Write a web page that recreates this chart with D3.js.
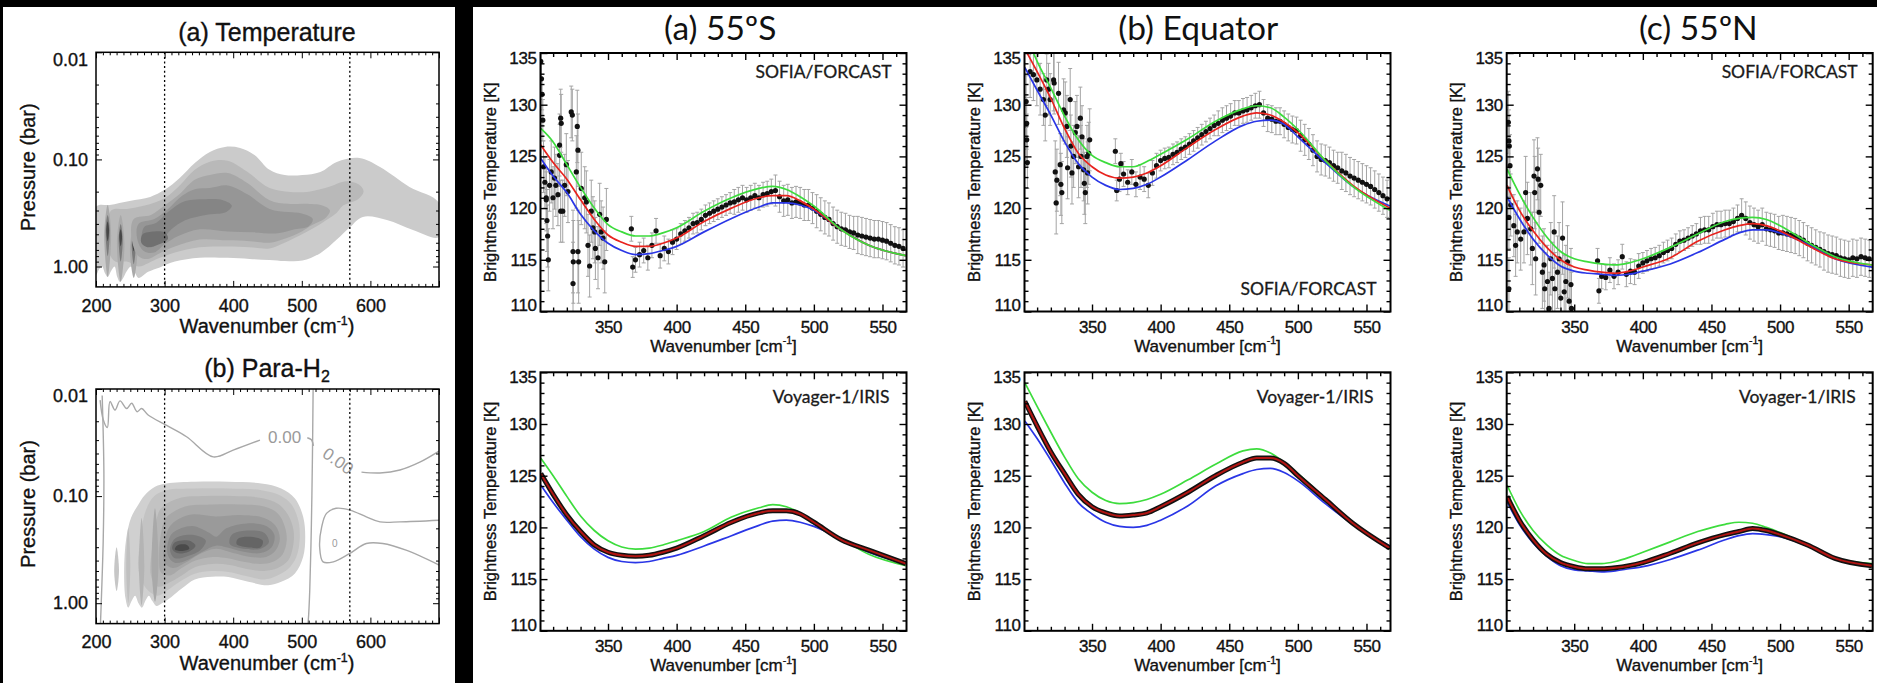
<!DOCTYPE html>
<html>
<head>
<meta charset="utf-8">
<script src="https://cdn.jsdelivr.net/npm/d3@7"></script>
<style>
  body { margin: 0; background: #000; }
  svg { display: block; }
</style>
</head>
<body>
<svg id="fig" width="1877" height="683"></svg>
<script>
// ---------------- left column: contribution maps, [wavenumber, pressure(bar)] outlines
const dottedWn = [300, 570]

const tempL1 = [[200,0.2775],[220,0.266],[249,0.244],[279,0.224],[300,0.1925],[322,0.149],[344,0.108],[366,0.0851],
  [388,0.0764],[410,0.0781],[431,0.0908],[453,0.125],[475,0.14],[501,0.14],[527,0.131],[551,0.1055],[584,0.0968],
  [614,0.1175],[657,0.1805],[700,0.2545],[700,0.53],[662,0.455],[624,0.367],[589,0.344],[570,0.43],[551,0.56],
  [527,0.75],[501,0.88],[475,0.89],[453,0.87],[424,0.85],[392,0.83],[351,0.83],[315,0.9],[293,1.02],[276,1.12],
  [262,1.28],[257,1.15],[251,1.0],[245,1.1],[239,1.3],[235,1.39],[231,1.25],[227,1.0],[222,1.1],[217,1.25],
  [213,1.15],[209,1.0],[205,1.05],[200,1.2]]
const tempL2 = [[222,0.3],[245,0.29],[271,0.27],[300,0.23],[322,0.175],[344,0.125],[366,0.105],[392,0.103],[420,0.13],
  [453,0.185],[480,0.2],[510,0.2],[540,0.18],[565,0.16],[585,0.175],[590,0.2],[582,0.235],[560,0.27],[551,0.315],
  [530,0.39],[512,0.455],[490,0.54],[470,0.62],[453,0.68],[424,0.66],[392,0.65],[351,0.66],[315,0.74],[293,0.83],
  [276,0.93],[262,1.0],[245,0.9],[228,0.9],[218,0.7]]
const tempL3 = [[255,0.36],[280,0.33],[300,0.27],[322,0.21],[344,0.155],[366,0.14],[392,0.134],[420,0.165],[453,0.24],
  [480,0.26],[505,0.26],[530,0.27],[541,0.3],[535,0.35],[515,0.41],[500,0.47],[475,0.55],[453,0.6],[424,0.58],
  [392,0.57],[351,0.56],[315,0.65],[293,0.75],[276,0.85],[262,0.8],[252,0.55]]
const tempL4 = [[262,0.4],[285,0.36],[305,0.29],[325,0.22],[344,0.19],[366,0.185],[392,0.175],[420,0.21],[453,0.29],
  [480,0.31],[500,0.32],[516,0.36],[510,0.42],[490,0.45],[465,0.49],[430,0.48],[392,0.47],[351,0.45],[320,0.52],
  [300,0.62],[285,0.74],[270,0.72],[260,0.55]]
const tempL5 = [[270,0.43],[288,0.39],[305,0.31],[330,0.245],[360,0.235],[385,0.24],[398,0.27],[390,0.31],[360,0.33],
  [330,0.37],[310,0.45],[295,0.58],[280,0.66],[268,0.6]]
const tempL6 = [[268,0.5],[285,0.47],[300,0.48],[305,0.55],[292,0.62],[275,0.66],[266,0.6]]
const tempFills = ['#cbcbcb', '#b9b9b9', '#a7a7a7', '#969696', '#858585', '#707070']

const tempFingers = [
  [[217,0.266],[222,0.5],[217,1.25],[212,0.5]], [[236,0.33],[241.5,0.6],[236,1.39],[230.5,0.6]],
  [[255,0.43],[260.5,0.68],[255,1.28],[249.5,0.68]],
  [[217,0.33],[220,0.45],[217,0.8],[214,0.45]], [[236,0.4],[239,0.55],[236,0.9],[233,0.55]],
  [[255,0.48],[258,0.62],[255,0.95],[252,0.62]],
  [[217,0.38],[219,0.46],[217,0.58],[215,0.46]], [[236,0.45],[238,0.52],[236,0.65],[234,0.52]],
  [[255,0.54],[257,0.6],[255,0.72],[253,0.6]]]
const tempFingerFills = ['#a9a9a9', '#a9a9a9', '#a9a9a9', '#7a7a7a', '#7a7a7a', '#7a7a7a', '#464646', '#464646', '#464646']

const paraP1 = [[251,0.16],[260,0.125],[271,0.098],[286,0.0818],[303,0.0762],[344,0.0735],[393,0.0735],[441,0.0762],
  [470,0.0847],[490,0.105],[502,0.156],[505,0.24],[502,0.369],[490,0.528],[470,0.632],[451,0.679],[422,0.632],
  [393,0.57],[369,0.567],[344,0.6],[325,0.73],[310,0.873],[296,1.0],[288,1.06],[282,0.95],[277,0.85],[272,0.95],
  [267,1.1],[262,1.0],[257,0.85],[252,0.95],[247,1.1],[243,0.9],[241,0.5],[244,0.25]]
const paraP2 = [[272,0.14],[285,0.1],[303,0.088],[344,0.085],[393,0.085],[441,0.088],[468,0.098],[485,0.12],[495,0.17],
  [497,0.25],[492,0.37],[480,0.48],[462,0.56],[445,0.6],[420,0.56],[393,0.51],[369,0.5],[344,0.53],[322,0.63],
  [305,0.75],[290,0.85],[275,0.75],[262,0.5],[265,0.25]]
const paraP3 = [[287,0.18],[295,0.13],[320,0.105],[360,0.1],[400,0.1],[441,0.104],[465,0.118],[480,0.15],[488,0.21],
  [487,0.3],[480,0.4],[465,0.47],[445,0.5],[420,0.48],[395,0.44],[370,0.43],[345,0.46],[325,0.55],[305,0.65],
  [290,0.7],[280,0.55],[282,0.3]]
const paraP4 = [[295,0.22],[302,0.16],[330,0.125],[370,0.12],[410,0.12],[445,0.125],[465,0.145],[475,0.19],[478,0.26],
  [472,0.35],[458,0.41],[440,0.43],[415,0.41],[392,0.38],[370,0.37],[345,0.4],[325,0.47],[308,0.55],[295,0.52],[292,0.35]]
const paraP5 = [[300,0.28],[308,0.19],[335,0.15],[375,0.155],[410,0.15],[445,0.16],[462,0.19],[468,0.25],[462,0.32],
  [448,0.37],[425,0.37],[400,0.34],[375,0.31],[350,0.35],[330,0.42],[312,0.47],[300,0.42]]
const paraP6 = [[305,0.27],[312,0.22],[340,0.19],[365,0.22],[375,0.24],[390,0.2],[420,0.18],[448,0.19],[460,0.23],
  [456,0.3],[440,0.34],[415,0.33],[390,0.3],[375,0.29],[355,0.33],[335,0.39],[315,0.42],[305,0.36]]
const paraP7L = [[308,0.32],[315,0.25],[340,0.23],[360,0.26],[352,0.32],[335,0.36],[315,0.38]]
const paraP7R = [[395,0.28],[398,0.23],[420,0.21],[445,0.22],[452,0.27],[440,0.31],[415,0.31]]
const paraP8L = [[311,0.31],[315,0.27],[335,0.26],[345,0.29],[335,0.33],[318,0.34]]
const paraP8R = [[405,0.28],[407,0.25],[425,0.24],[443,0.26],[440,0.3],[420,0.3]]
const paraP9L = [[315,0.315],[318,0.29],[332,0.285],[336,0.31],[325,0.325]]
const paraFingers = [[[230,0.3],[233.5,0.5],[230,0.77],[226.5,0.5]], [[247,0.2],[250,0.45],[247,1.0],[244,0.45]],
  [[266.5,0.16],[270.5,0.45],[266.5,1.05],[262.5,0.45]], [[286,0.13],[291,0.45],[286,0.97],[281,0.45]]]
const paraFingerFills = ['#c6c6c6', '#c0c0c0', '#b4b4b4', '#a9a9a9']
const paraFills = ['#d0d0d0', '#c3c3c3', '#b6b6b6', '#a8a8a8', '#9a9a9a', '#8b8b8b', '#7a7a7a', '#7a7a7a',
  '#656565', '#656565', '#4a4a4a']

// zero contour lines of the para-H2 panel
const zeroA1 = [[206,0.0127],[210.7,0.0195],[216.5,0.0229],[220.4,0.0131],[227.7,0.0157],[235,0.0129],[244.7,0.0152],
  [252,0.0136],[260,0.0163],[266.5,0.0152],[276,0.0175],[303,0.0219],[332,0.0279],[371,0.043],[400,0.0372],[439,0.030]]
const zeroA2 = [[508,0.0285],[514,0.0298],[517,0.034]]
const zeroB = [[516.5,0.0101],[515.5,0.043],[514,0.18],[511.6,0.757],[509.5,1.44],[509,1.55]]
const zeroC = [[209,0.0115],[211.5,0.06],[210.5,0.26],[207.5,1.05],[206.5,1.55]]
const zeroD = [[587,0.0597],[614,0.0608],[643,0.057],[672,0.0482],[700,0.038]]
const zeroE = [[700,0.168],[643,0.174],[614,0.174],[594,0.156],[570,0.135],[550,0.13],[536,0.145],[529,0.194],
  [526,0.298],[531,0.411],[546,0.411],[570,0.343],[594,0.277],[618,0.277],[652,0.32],[700,0.44]]
const zeroLabels = [['0.00', 475, 0.0279, 0], ['0.00', 553, 0.047, 35], ['0', 548, 0.277, 0]]

// ---------------- right block: brightness temperature spectra [K]
const wnGrid = [301, 310, 320, 330, 340, 350, 360, 370, 380, 390, 400, 420, 440, 460, 470, 480, 490, 500, 520, 540, 567]

const sofS55Green = [127.7, 126.4, 124.2, 122.0, 120.0, 118.4, 117.7, 117.3, 117.3, 117.6, 118.1, 119.7, 121.0, 121.9, 122.1, 121.8, 121.1, 120.2, 117.9, 116.4, 115.4]
const sofS55Red   = [126.1, 124.4, 122.8, 120.8, 118.9, 117.4, 116.7, 116.3, 116.3, 116.6, 117.1, 118.7, 120.0, 121.0, 121.2, 121.2, 120.7, 119.9, 117.9, 116.4, 115.4]
const sofS55Blue  = [124.8, 123.1, 121.5, 119.4, 117.8, 116.6, 115.9, 115.5, 115.6, 115.9, 116.3, 117.7, 119.0, 120.1, 120.5, 120.5, 120.3, 119.8, 117.9, 116.4, 115.4]
const sofEqGreen  = [137.0, 134.2, 131.6, 128.9, 126.6, 125.1, 124.4, 124.0, 124.0, 124.5, 125.2, 126.7, 128.4, 129.6, 129.9, 129.7, 128.8, 127.6, 124.6, 122.1, 119.8]
const sofEqRed    = [135.4, 133.2, 130.6, 127.7, 125.3, 124.0, 123.2, 122.9, 123.0, 123.4, 124.1, 125.9, 127.6, 128.9, 129.2, 129.0, 128.3, 127.3, 124.6, 122.2, 120.0]
const sofEqBlue   = [133.6, 131.4, 129.0, 126.4, 124.3, 123.0, 122.2, 121.8, 121.9, 122.3, 123.0, 124.7, 126.5, 128.0, 128.4, 128.5, 128.1, 126.9, 124.4, 122.1, 120.2]
const sofN55Green = [123.8, 121.4, 119.1, 117.2, 115.8, 115.1, 114.8, 114.6, 114.5, 114.7, 115.1, 116.2, 117.5, 118.7, 119.0, 119.1, 118.9, 118.3, 116.7, 115.3, 114.5]
const sofN55Red   = [122.2, 119.8, 117.8, 116.2, 115.0, 114.3, 114.0, 113.8, 113.7, 113.9, 114.3, 115.2, 116.8, 117.9, 118.3, 118.5, 118.3, 117.8, 116.4, 115.1, 114.5]
const sofN55Blue  = [121.1, 119.0, 117.0, 115.5, 114.4, 113.9, 113.7, 113.6, 113.5, 113.6, 113.9, 114.6, 115.7, 117.0, 117.6, 117.9, 117.9, 117.6, 116.5, 115.1, 114.3]

const irS55Green = [126.7, 125.0, 123.0, 121.1, 119.7, 118.7, 118.1, 117.9, 118.0, 118.3, 118.7, 119.6, 121.0, 121.9, 122.2, 122.0, 121.4, 120.5, 118.9, 117.4, 116.3]
const irS55Blue  = [124.1, 122.4, 120.7, 119.1, 117.9, 117.1, 116.7, 116.6, 116.7, 117.0, 117.3, 118.2, 119.2, 120.2, 120.6, 120.7, 120.5, 120.1, 118.9, 117.6, 116.5]
const irS55Data  = [125.2, 123.2, 121.2, 119.6, 118.3, 117.6, 117.3, 117.2, 117.3, 117.6, 118.0, 119.2, 120.5, 121.4, 121.6, 121.6, 121.3, 120.5, 118.8, 117.8, 116.5]
const irEqGreen  = [134.0, 131.7, 129.2, 126.8, 124.7, 123.4, 122.6, 122.3, 122.4, 122.7, 123.2, 124.6, 126.1, 127.4, 127.6, 127.2, 126.3, 125.2, 122.8, 120.4, 117.9]
const irEqBlue   = [130.3, 128.6, 126.5, 124.3, 122.4, 121.3, 120.5, 120.1, 120.0, 120.2, 120.7, 122.1, 124.0, 125.2, 125.6, 125.7, 125.3, 124.5, 122.3, 120.3, 118.2]
const irEqData   = [132.2, 129.8, 127.3, 125.2, 123.2, 122.0, 121.4, 121.1, 121.2, 121.4, 122.0, 123.4, 125.0, 126.3, 126.7, 126.7, 126.2, 125.0, 122.7, 120.4, 118.0]
const irN55Green = [124.1, 121.7, 119.7, 118.3, 117.3, 116.8, 116.5, 116.5, 116.7, 117.1, 117.6, 118.6, 119.6, 120.3, 120.5, 120.4, 120.0, 119.5, 118.3, 117.0, 116.5]
const irN55Blue  = [122.5, 120.3, 118.5, 117.2, 116.3, 115.9, 115.8, 115.7, 115.8, 116.0, 116.2, 116.9, 117.8, 118.8, 119.2, 119.4, 119.3, 119.1, 118.2, 117.0, 116.3]
const irN55Data  = [123.0, 120.7, 118.8, 117.4, 116.6, 116.2, 116.0, 116.0, 116.1, 116.3, 116.6, 117.5, 118.5, 119.3, 119.6, 119.9, 119.7, 119.3, 118.3, 117.0, 116.3]

// SOFIA points beyond the gap, one every 3 cm-1 from 367
const sofiaGrid = d3.range(367, 566, 3)
const sofS55Pts = [118.0, 115.0, 115.5, 115.9, 115.2, 116.4, 117.8, 115.4, 116.1, 115.8,
  116.7, 117.0, 117.5, 117.8, 118.1, 118.5, 118.6, 118.9, 119.3, 119.5,
  119.7, 119.9, 120.1, 120.3, 120.5, 120.6, 120.8, 121.0, 120.8, 121.0,
  121.2, 121.0, 121.3, 121.4, 121.6, 121.7, 121.1, 120.7, 120.8, 120.5,
  120.6, 120.5, 120.3, 120.3, 120.0, 119.7, 119.4, 119.1, 118.9, 118.5,
  118.2, 118.0, 117.9, 117.7, 117.6, 117.4, 117.3, 117.2, 117.1, 117.0,
  117.0, 116.9, 116.8, 116.6, 116.4, 116.3, 116.1]
const sofEqPts = [125.5, 122.8, 123.3, 122.5, 123.5, 122.3, 123.0, 122.8, 122.2, 123.4,
  124.1, 124.6, 124.8, 124.9, 125.2, 125.4, 125.7, 125.9, 126.2, 126.5,
  126.8, 127.1, 127.4, 127.7, 128.0, 128.2, 128.5, 128.7, 128.9, 129.2,
  129.2, 129.4, 129.5, 129.7, 129.9, 130.0, 129.2, 128.7, 128.6, 128.4,
  128.4, 128.1, 127.8, 127.6, 127.5, 127.0, 126.6, 126.2, 125.6, 125.0,
  124.7, 124.6, 124.4, 124.1, 123.9, 123.6, 123.4, 123.1, 122.9, 122.7,
  122.5, 122.3, 122.1, 121.8, 121.5, 121.2, 120.9]
const sofN55Pts = [114.9, 113.4, 113.3, 114.0, 113.4, 113.8, 115.3, 113.6, 113.9, 113.8,
  114.4, 114.7, 114.9, 115.1, 115.2, 115.4, 115.7, 115.9, 116.1, 116.5,
  116.8, 116.9, 117.1, 117.3, 117.5, 117.8, 117.9, 117.9, 118.2, 118.4,
  118.4, 118.5, 118.5, 118.7, 119.0, 119.3, 119.0, 118.6, 118.4, 118.2,
  118.4, 118.0, 117.9, 117.8, 117.6, 117.6, 117.5, 117.4, 117.3, 117.1,
  116.9, 116.6, 116.4, 116.2, 116.0, 115.8, 115.6, 115.5, 115.4, 115.2,
  115.1, 115.0, 115.2, 115.1, 115.3, 115.2, 115.1]
// error half-widths, [from wavenumber, K]
const sofS55Err = [[367,1.2],[400,1.0],[440,1.2],[470,1.5],[500,1.6],[530,1.8]]
const sofEqErr  = [[367,1.2],[400,1.0],[440,1.2],[470,1.3],[500,1.5],[530,1.8]]
const sofN55Err = [[367,1.2],[400,1.0],[440,1.3],[470,1.6],[500,1.7],[530,1.8]]

// noisy short-wavelength end, [wavenumber, K, error]
const sofS55Scatter = [[301,134.2,1.5],[301.5,132.5,1.5],[302,131,1.5],[302.5,128.5,2],[303,124,2.5],[304,122.5,2.5],
  [305,120.8,3],[305.5,118.8,3],[306,117.3,3],[306.5,115,3],[305,121,2.5],[307.4,122.2,2.5],[308.6,123.5,3],
  [309.9,121,3],[311,122.9,3],[312,122.2,3],[313.5,121.3,3],[314.7,126.1,3],[314.7,125.1,3],[315.5,128.7,2.8],
  [315.9,128.2,2.8],[315.5,119.7,3],[317,119.7,3],[318.4,122.2,3],[319.6,124.2,3],[320.8,121.6,3],[323.2,129.3,2.5],
  [324,129,2.5],[324.5,115.8,4],[324.7,114.8,4],[324.5,112.7,4],[326.9,123.5,3.5],[327.6,127.9,3.5],[328.1,125.6,3.5],
  [328.1,115.8,4],[328.6,114.8,4],[330.5,121.9,3.5],[333,121,3],[334.2,120.6,3],[335.4,116.4,3],[336.6,114.4,3],
  [337.8,119.7,3],[339,118.1,3],[340.3,117.7,3],[340.8,116.1,3],[342.7,115.2,3],[343.9,119.4,3],[345,117.7,3],
  [346.4,117.1,3],[347.6,114.8,3],[348.8,118.9,3],[368,114.3,1.0]]
const sofEqScatter = [[302,130.3,2.5],[302.4,128.2,2.5],[302.4,126.6,2.5],[302.9,124.4,2.5],[304.9,133.2,2.5],
  [307.3,132.9,2.5],[309.8,132.4,2.5],[312.2,131.5,2.5],[314.6,130.5,2.5],[315.9,129,2.5],[317,132.4,2.5],
  [318.3,131.5,2.5],[319.5,130.5,2.5],[322,132.4,3],[322.4,132.1,3],[323.2,123.5,3],[323.9,120.5,3],[324.4,122.7,3],
  [325.6,131.1,3],[326.8,124.2,3],[327.3,122.3,3],[328,121.5,3],[329.3,129.5,3],[330.5,129.2,3],[331.7,127.9,3],
  [332.2,123.9,3],[334.1,130.5,3],[334.6,126,3],[335.4,123.4,3],[336.6,125,3],[337.8,127.3,3],[339,127.9,3],
  [340.2,124,3],[341.5,128.7,3],[342,125,3],[342.7,126.9,3],[343.9,123.7,3],[344.4,122.4,3],[345.1,121.5,3],
  [346.3,125,3],[346.8,123.4,3],[347.6,125.3,3],[348.3,126.6,3],[368,121.7,1.0],[371,124.3,1.0]]
const sofN55Scatter = [[302,128.3,3],[302.4,126.5,3],[302.7,126,3],[303.2,124.1,3],[303.7,120.3,3],[302.4,112.2,3],
  [302.4,119.1,3],[306,118.3,3],[308.5,117.7,3],[311,117,3],[307.3,116.4,3],[313.4,117.7,3],[314.6,121.5,3.5],
  [315.9,119,3.5],[318.3,118,3.5],[319.5,116.1,3.5],[320.7,123.1,3.5],[321.2,121.5,3.5],[321.9,115.1,3.5],
  [323.2,123.8,3],[323.7,122.8,3],[324.4,119.6,3],[325.6,122.2,3],[326.8,113.8,3.5],[328,114.5,3.5],[328.5,112.2,3.5],
  [330.5,112.9,3.5],[331.7,110.3,3.5],[332.9,115.1,3.5],[334.1,113.2,3.5],[335.4,117.7,3.5],[335.9,112.2,3.5],
  [337.8,113.8,3.5],[339,115.1,3.5],[340.2,111.3,3.5],[341.5,117.1,3.5],[342.7,111.9,3.5],[343.9,112.9,3.5],
  [345.1,114.8,3.5],[346.3,111,3.5],[347.6,112.6,3.5],[348,110.3,3.5],[368,112.0,1.2]]

const spectraTitles = ['(a) 55ºS', '(b) Equator', '(c) 55ºN']

// ---------------- drawing
const HELV = 'Liberation Sans, Arial, Helvetica, sans-serif'
const LATO = 'Lato, Open Sans, sans-serif'
const svg = d3.select('#fig')
svg.append('rect').attr('width', 1877).attr('height', 683).attr('fill', '#000')
svg.append('rect').attr('x', 3).attr('y', 7).attr('width', 452).attr('height', 676).attr('fill', '#fff')
svg.append('rect').attr('x', 473).attr('y', 7).attr('width', 1404).attr('height', 676).attr('fill', '#fff')
const defs = svg.append('defs')
let clipCount = 0

function clipTo(x0, y0, w, h) {
  const id = 'clip' + clipCount++
  defs.append('clipPath').attr('id', id).append('rect')
    .attr('x', x0).attr('y', y0).attr('width', w).attr('height', h)
  return `url(#${id})`
}

// scanned print looks a little heavier than the clean font
const ink = sel => sel.attr('fill', '#111').attr('stroke', '#111').attr('stroke-width', 0.35)

// IDL-style box: ticks inward on all four sides
function frame(g, x, y, o) {
  const [xa, xb] = x.range()
  const [ya, yb] = d3.extent(y.range())
  const clean = sel => {
    sel.select('.domain').remove()
    sel.selectAll('line').attr('stroke', '#000').attr('stroke-width', o.tickWidth)
  }
  const put = (gen, tx, ty) => g.append('g').attr('transform', `translate(${tx},${ty})`).call(gen).call(clean)
  const bottom = put(d3.axisBottom(x).tickValues(o.xMajor).tickSize(-o.major).tickPadding(o.xPad)
    .tickFormat(d => o.xLabels.includes(d) ? d : ''), 0, yb)
  put(d3.axisBottom(x).tickValues(o.xMinor).tickSize(-o.minor).tickFormat(''), 0, yb)
  put(d3.axisTop(x).tickValues(o.xMajor).tickSize(-o.major).tickFormat(''), 0, ya)
  put(d3.axisTop(x).tickValues(o.xMinor).tickSize(-o.minor).tickFormat(''), 0, ya)
  const left = put(d3.axisLeft(y).tickValues(o.yMajor).tickSize(-o.major).tickPadding(o.yPad)
    .tickFormat(o.yFormat), xa, 0)
  put(d3.axisLeft(y).tickValues(o.yMinor).tickSize(-o.minor).tickFormat(''), xa, 0)
  put(d3.axisRight(y).tickValues(o.yMajor).tickSize(-o.major).tickFormat(''), xb, 0)
  put(d3.axisRight(y).tickValues(o.yMinor).tickSize(-o.minor).tickFormat(''), xb, 0)
  ;[bottom, left].forEach(a => a.attr('font-family', HELV).attr('font-size', o.fontSize)
    .selectAll('text').call(ink).attr('letter-spacing', o.spacing))
  left.selectAll('.tick text').attr('y', d => o.edgeShift(d))
  g.append('rect').attr('x', xa).attr('y', ya).attr('width', xb - xa).attr('height', yb - ya)
    .attr('fill', 'none').attr('stroke', '#000').attr('stroke-width', o.boxWidth)
}

function superLabel(g, cx, cy, main, sup, close, size, rotate) {
  const t = g.append('text').attr('font-family', HELV).attr('font-size', size).call(ink)
    .attr('text-anchor', 'middle')
    .attr('transform', `translate(${cx},${cy})` + (rotate ? ' rotate(-90)' : ''))
  t.append('tspan').text(main)
  if (sup) {
    t.append('tspan').attr('font-size', size * 0.62).attr('dy', -size * 0.42).text(sup)
    t.append('tspan').attr('dy', size * 0.42).text(close)
  }
  return t
}

// ---- contour panels
function contourPanel(top, title, layers, lines, labels) {
  const x = d3.scaleLinear().domain([200, 700]).range([96, 439])
  const y = d3.scaleLog().domain([0.01, 1.55]).range([top, top + 234.6])
  const g = svg.append('g')
  const body = g.append('g').attr('clip-path', clipTo(96, top, 343, 234.6))
  const blob = d3.line().x(d => x(d[0])).y(d => y(d[1])).curve(d3.curveCatmullRomClosed.alpha(0.5))
  const wire = d3.line().x(d => x(d[0])).y(d => y(d[1])).curve(d3.curveCatmullRom.alpha(0.5))
  layers.forEach(([shape, fill]) => body.append('path').attr('d', blob(shape)).attr('fill', fill))
  lines.forEach(line => body.append('path').attr('d', wire(line)).attr('fill', 'none')
    .attr('stroke', '#a8a8a8').attr('stroke-width', 1.4))
  labels.forEach(([txt, w, p, rot]) => body.append('text').text(txt)
    .attr('transform', `translate(${x(w)},${y(p)}) rotate(${rot})`)
    .attr('text-anchor', 'middle').attr('dy', '0.35em').attr('font-family', HELV)
    .attr('font-size', txt === '0' ? 10 : 17).attr('fill', '#9a9a9a'))
  body.selectAll('line.dot').data(dottedWn).join('line')
    .attr('x1', d => x(d)).attr('x2', d => x(d)).attr('y1', top).attr('y2', top + 234.6)
    .attr('stroke', '#000').attr('stroke-width', 1.3).attr('stroke-dasharray', '2,2.6')
  frame(g, x, y, {
    xMajor: d3.range(200, 701, 100), xMinor: d3.range(210, 700, 10).filter(v => v % 100),
    xLabels: [200, 300, 400, 500, 600], xPad: 12,
    yMajor: [0.01, 0.1, 1], yMinor: d3.range(2, 10).flatMap(k => [k * 0.01, k * 0.1]),
    yFormat: d3.format('.2f'), yPad: 8, edgeShift: d => d === 0.01 ? 7 : 0,
    major: 6, minor: 3, tickWidth: 1, boxWidth: 1.5, fontSize: 18, spacing: 0
  })
  const t = g.append('text').attr('x', 267).attr('y', top - 11.8).attr('text-anchor', 'middle')
    .attr('font-family', HELV).attr('font-size', 25).call(ink)
  t.append('tspan').text(title[0])
  if (title[1]) t.append('tspan').attr('font-size', 16).attr('dy', 5).text(title[1])
  superLabel(g, 35, top + 115, 'Pressure (bar)', null, null, 20, true)
  superLabel(g, 267, top + 281, 'Wavenumber (cm', '-1', ')', 20, false)
}

const tempLayers = [tempL1, tempL2].map((s, i) => [s, tempFills[i]])
  .concat(tempFingers.map((s, i) => [s, tempFingerFills[i]]))
  .concat([tempL3, tempL4, tempL5, tempL6].map((s, i) => [s, tempFills[i + 2]]))
contourPanel(52.3, ['(a) Temperature'], tempLayers, [], [])

const paraLayers = [paraP1, paraP2, paraP3].map((s, i) => [s, paraFills[i]])
  .concat(paraFingers.map((s, i) => [s, paraFingerFills[i]]))
  .concat([paraP4, paraP5, paraP6, paraP7L, paraP7R, paraP8L, paraP8R, paraP9L].map((s, i) => [s, paraFills[i + 3]]))
contourPanel(389, ['(b) Para-H', '2'], paraLayers, [zeroA1, zeroA2, zeroB, zeroC, zeroD, zeroE], zeroLabels)

// ---- spectra panels
const colLeft = [540.5, 1024.5, 1506.7]
const rowTop = [53, 372.3]
const PW = 366, PH = 258.5
const errAt = (steps, w) => steps.filter(s => s[0] <= w).pop()[1]

function spectrumPanel(col, row, o) {
  const x0 = colLeft[col], y0 = rowTop[row]
  const x = d3.scaleLinear().domain([300.8, 567.5]).range([x0, x0 + PW])
  const y = d3.scaleLinear().domain([110, 135]).range([y0 + PH, y0])
  const g = svg.append('g')
  const body = g.append('g').attr('clip-path', clipTo(x0, y0, PW, PH))
  const line = d3.line().x((d, i) => x(wnGrid[i])).y(d => y(d)).curve(d3.curveMonotoneX)
  const stroke = (vals, color, width) => body.append('path').attr('d', line(vals)).attr('fill', 'none')
    .attr('stroke', color).attr('stroke-width', width).attr('stroke-linejoin', 'round')

  if (o.points) {
    const pts = o.scatter.concat(sofiaGrid.map((w, i) => [w, o.points[i], errAt(o.err, w)]))
    body.append('g').selectAll('path').data(pts).join('path')
      .attr('d', d => {
        const px = x(d[0]), hi = y(d[1] + d[2]), lo = y(d[1] - d[2])
        return `M${px - 2},${hi}H${px + 2}M${px},${hi}V${lo}M${px - 2},${lo}H${px + 2}`
      })
      .attr('fill', 'none').attr('stroke', '#a4a4a4').attr('stroke-width', 1)
    body.append('g').selectAll('circle').data(pts).join('circle')
      .attr('cx', d => x(d[0])).attr('cy', d => y(d[1])).attr('r', 2.6).attr('fill', '#111')
    stroke(o.blue, '#2a36e6', 1.7)
    stroke(o.red, '#e8231e', 1.7)
    stroke(o.green, '#3ddc3d', 1.7)
  } else {
    stroke(o.blue, '#2a36e6', 1.7)
    stroke(o.green, '#3ddc3d', 1.7)
    stroke(o.data, '#111', 5)
    stroke(o.data, '#b01512', 2)
  }

  frame(g, x, y, {
    xMajor: [350, 400, 450, 500, 550], xMinor: d3.range(310, 567, 10).filter(v => v % 50),
    xLabels: [350, 400, 450, 500, 550], xPad: 9,
    yMajor: [110, 115, 120, 125, 130, 135], yMinor: d3.range(111, 135).filter(v => v % 5),
    yFormat: d3.format('d'), yPad: 4, edgeShift: d => d === 135 ? 5 : d === 110 ? -6 : 0,
    major: 7, minor: 4, tickWidth: 1.4, boxWidth: 2, fontSize: 17, spacing: -0.4
  })
  superLabel(g, x0 - 45, y0 + PH / 2, 'Brightness Temperature [K]', null, null, 16.5, true)
  superLabel(g, x0 + PW / 2, y0 + PH + 40, 'Wavenumber [cm', '-1', ']', 17, false)

  const tag = g.append('text').attr('text-anchor', 'end').attr('font-family', LATO)
    .attr('font-size', 17.5).attr('fill', '#1a1a1a').attr('stroke', '#1a1a1a').attr('stroke-width', 0.3).text(o.tag)
  if (o.tagLow) tag.attr('x', x0 + PW - 14).attr('y', y0 + PH - 17)
  else if (o.points) tag.attr('x', x0 + PW - 15).attr('y', y0 + 25)
  else tag.attr('x', x0 + PW - 17).attr('y', y0 + 31)
}

const titleX = [720.3, 1198.3, 1698.3]
spectraTitles.forEach((t, i) => svg.append('text').attr('x', titleX[i]).attr('y', 40)
  .attr('text-anchor', 'middle').attr('font-family', LATO).attr('font-size', 33.5).attr('fill', '#111').text(t))

spectrumPanel(0, 0, { tag: 'SOFIA/FORCAST', points: sofS55Pts, scatter: sofS55Scatter, err: sofS55Err,
  green: sofS55Green, red: sofS55Red, blue: sofS55Blue })
spectrumPanel(1, 0, { tag: 'SOFIA/FORCAST', tagLow: true, points: sofEqPts, scatter: sofEqScatter, err: sofEqErr,
  green: sofEqGreen, red: sofEqRed, blue: sofEqBlue })
spectrumPanel(2, 0, { tag: 'SOFIA/FORCAST', points: sofN55Pts, scatter: sofN55Scatter, err: sofN55Err,
  green: sofN55Green, red: sofN55Red, blue: sofN55Blue })
spectrumPanel(0, 1, { tag: 'Voyager-1/IRIS', green: irS55Green, blue: irS55Blue, data: irS55Data })
spectrumPanel(1, 1, { tag: 'Voyager-1/IRIS', green: irEqGreen, blue: irEqBlue, data: irEqData })
spectrumPanel(2, 1, { tag: 'Voyager-1/IRIS', green: irN55Green, blue: irN55Blue, data: irN55Data })
</script>
</body>
</html>
